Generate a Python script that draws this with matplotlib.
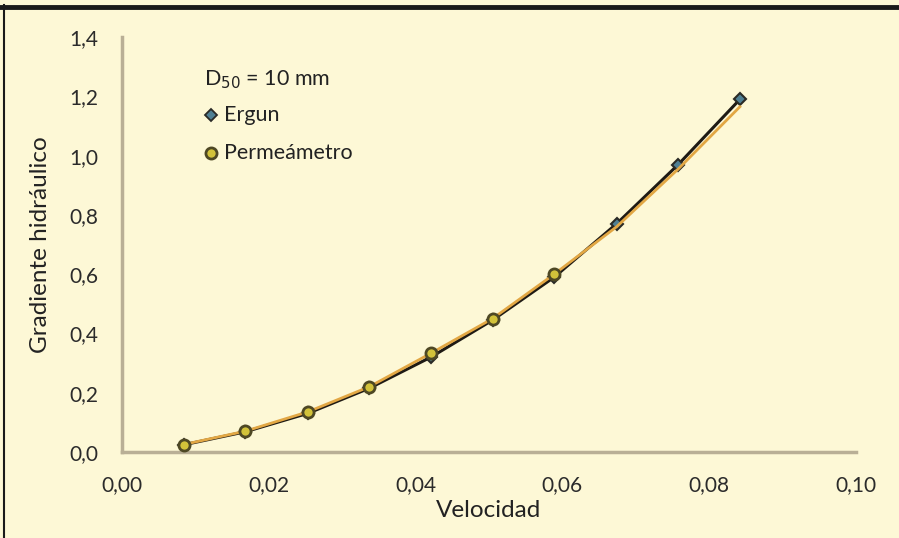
import matplotlib
matplotlib.use("Agg")
import matplotlib.pyplot as plt
from matplotlib.lines import Line2D

# data
velocidad = [0.0084, 0.0168, 0.0253, 0.0337, 0.0421, 0.0505, 0.0589, 0.0674, 0.0758, 0.0842]
ergun = [0.024, 0.068, 0.130, 0.215, 0.320, 0.445, 0.590, 0.770, 0.970, 1.190]
permeametro = [0.025, 0.070, 0.135, 0.220, 0.333, 0.450, 0.600, 0.760, 0.955, 1.165]
n_perm_markers = 7

x_ticks = [0.00, 0.02, 0.04, 0.06, 0.08, 0.10]
y_ticks = [0.0, 0.2, 0.4, 0.6, 0.8, 1.0, 1.2, 1.4]

bg = "#FDF8D6"
plt.rcParams['font.family'] = ['Lato', 'DejaVu Sans']

fig = plt.figure(figsize=(8.99, 5.38), dpi=100, facecolor=bg)
ax = fig.add_axes([0.1357, 0.160, 0.8163, 0.771])
ax.set_facecolor(bg)

ax.plot(velocidad, ergun, color="#1E1A14", lw=2.2, marker="D", ms=6.5,
        mfc="#4F7F93", mec="#2A2A26", mew=1.5, zorder=2)
ax.plot(velocidad, permeametro, color="#E2A744", lw=2.0, zorder=3)
ax.plot(velocidad[:n_perm_markers], permeametro[:n_perm_markers], ls="none",
        marker="o", ms=8, mfc="#D2C23A", mec="#4E4824", mew=2, zorder=4)

ax.set_xlim(0, 0.10)
ax.set_ylim(0, 1.4)
ax.set_xticks(x_ticks)
ax.set_yticks(y_ticks)
ax.set_xticklabels([f"{t:.2f}".replace(".", ",") for t in x_ticks])
ax.set_yticklabels([f"{t:.1f}".replace(".", ",") for t in y_ticks])
ax.tick_params(length=0, labelsize=15, colors="#2B2B2B")
ax.tick_params(axis="y", pad=17)
ax.tick_params(axis="x", pad=17)
for s in ["top", "right"]:
    ax.spines[s].set_visible(False)
for s in ["left", "bottom"]:
    ax.spines[s].set_color("#B9AF96")
    ax.spines[s].set_linewidth(2.5)

ax.set_xlabel("Velocidad", fontsize=17.5, color="#222222", labelpad=3)
ax.set_ylabel("Gradiente hidráulico", fontsize=17.5, color="#222222", labelpad=13)

# legend-like annotation
fig.text(0.227, 0.852, "D$_{50}$ = 10 mm", fontsize=15.5, color="#222222", va="center")
fig.lines.append(Line2D([0.235], [0.786], transform=fig.transFigure, marker="D", ms=6,
                        mfc="#4F7F93", mec="#2A2A26", mew=1.3, ls="none"))
fig.text(0.249, 0.786, "Ergun", fontsize=15.5, color="#222222", va="center")
fig.lines.append(Line2D([0.235], [0.716], transform=fig.transFigure, marker="o", ms=8,
                        mfc="#D2C23A", mec="#4E4824", mew=2, ls="none"))
fig.text(0.249, 0.716, "Permeámetro", fontsize=15.5, color="#222222", va="center")

# black frame on top and left
fig.lines.append(Line2D([0, 1], [0.987, 0.987], transform=fig.transFigure, color="#1A1A1A", lw=3.5))
fig.lines.append(Line2D([0.0045, 0.0045], [0, 0.99], transform=fig.transFigure, color="#1A1A1A", lw=1.5))

fig.savefig("out.png", dpi=100, facecolor=bg)
